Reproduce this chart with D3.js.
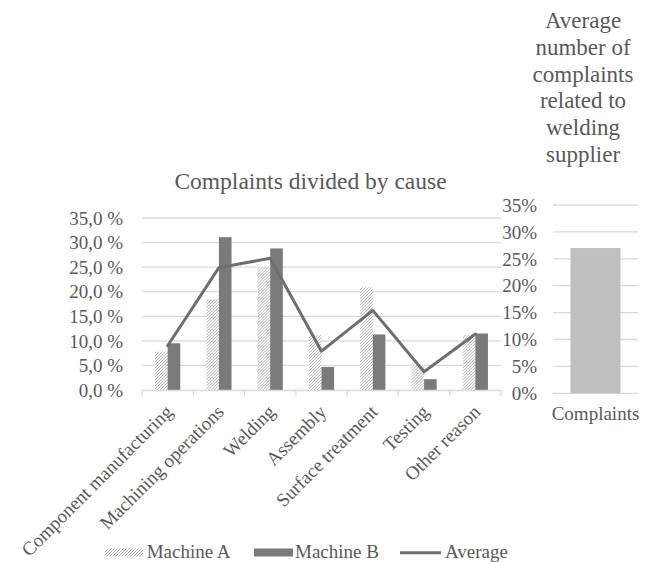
<!DOCTYPE html>
<html><head><meta charset="utf-8">
<script src="https://cdn.jsdelivr.net/npm/d3@7"></script>
<style>body{margin:0;background:#fff}svg{display:block}text{font-family:"Liberation Serif","Times New Roman",serif;fill:#595959}</style>
</head><body><svg id="c" width="655" height="562"></svg>
<script>
const categories = ["Component manufacturing","Machining operations","Welding","Assembly","Surface treatment","Testing","Other reason"];
const machineA = [7.8, 18.5, 24.9, 11.2, 20.9, 5.1, 11.2];
const machineB = [9.5, 31.1, 28.8, 4.7, 11.3, 2.2, 11.5];
const average  = [9.0, 24.9, 26.8, 7.9, 16.2, 3.7, 11.4];
const leftTicks = [0,5,10,15,20,25,30,35];
const rightCategories = ["Complaints"];
const rightValues = [27.0];
const rightTicks = [0,5,10,15,20,25,30,35];
const leftTitle = "Complaints divided by cause";
const rightTitle = ["Average","number of","complaints","related to","welding","supplier"];
const legendItems = ["Machine A","Machine B","Average"];

const svg = d3.select("#c");
const defs = svg.append("defs");
const pat = defs.append("pattern").attr("id","hatch").attr("patternUnits","userSpaceOnUse")
  .attr("width",3).attr("height",3);
pat.append("rect").attr("width",3).attr("height",3).attr("fill","#ffffff");
pat.append("path").attr("d","M-1,1 L1,-1 M0,3 L3,0 M2,4 L4,2").attr("stroke","#a8a8a8").attr("stroke-width",0.9);

const grid="#d9d9d9", barB="#7a7a7a", lineC="#6e6e6e";
const serif = '"Liberation Serif","Times New Roman",serif';

// Left chart
const x0 = d3.scaleBand().domain(categories).range([142,501]).padding(0);
const bw = x0.bandwidth();
const x1 = d3.scaleBand().domain(["A","B"]).range([bw/2-12.6, bw/2+12.6]).padding(0);
const y = d3.scaleLinear().domain([0,35]).range([390,218]);

const gl = svg.append("g");
gl.selectAll("line.g").data(leftTicks.filter(d=>d>0)).join("line")
  .attr("x1",142).attr("x2",501).attr("y1",d=>y(d)).attr("y2",d=>y(d))
  .attr("stroke",grid).attr("stroke-width",1.3);

const yAxis = d3.axisLeft(y).tickValues(leftTicks).tickSize(0).tickPadding(0)
  .tickFormat(d=>d3.format(".1f")(d).replace(".",",")+" %");
const ya = svg.append("g").attr("transform","translate(123,0)").call(yAxis);
ya.select(".domain").remove();
ya.attr("font-family",serif);
ya.selectAll("text").attr("font-size",19).attr("fill","#595959").attr("dy","0.33em")
  .style("font-family",serif);

// bars
const groups = svg.append("g").selectAll("g").data(categories).join("g")
  .attr("transform",d=>`translate(${x0(d)},0)`);
groups.append("rect").attr("x",x1("A")).attr("width",x1.bandwidth())
  .attr("y",(d,i)=>y(machineA[i])).attr("height",(d,i)=>y(0)-y(machineA[i]))
  .attr("fill","url(#hatch)");
groups.append("rect").attr("x",x1("B")).attr("width",x1.bandwidth())
  .attr("y",(d,i)=>y(machineB[i])).attr("height",(d,i)=>y(0)-y(machineB[i]))
  .attr("fill",barB);

// x axis
const xAxis = d3.axisBottom(x0).tickSize(0).tickFormat("");
const xa = svg.append("g").attr("transform","translate(0,390)").call(xAxis);
xa.select(".domain").attr("stroke",grid).attr("stroke-width",1.3);
xa.selectAll(".tick").remove();
const bounds = categories.map(c=>x0(c)).concat([x0(categories[categories.length-1])+bw]);
svg.append("g").selectAll("line").data(bounds).join("line")
  .attr("x1",d=>d).attr("x2",d=>d).attr("y1",390).attr("y2",396)
  .attr("stroke",grid).attr("stroke-width",1.3);

svg.append("g").selectAll("text").data(categories).join("text")
  .attr("transform",d=>`translate(${x0(d)+bw/2+6},413) rotate(-45)`)
  .attr("text-anchor","end").attr("font-size",19).style("font-family",serif).text(d=>d);

// average line
const line = d3.line().x((d,i)=>x0(categories[i])+bw/2).y(d=>y(d));
svg.append("path").datum(average).attr("d",line).attr("fill","none")
  .attr("stroke",lineC).attr("stroke-width",3).attr("stroke-linejoin","round").attr("stroke-linecap","round");

svg.append("text").attr("x",310.5).attr("y",189).attr("text-anchor","middle")
  .attr("font-size",23.5).style("font-family",serif).text(leftTitle);

// Right chart
const xr = d3.scaleBand().domain(rightCategories).range([553,638]).paddingInner(0).paddingOuter(0.35);
const yr = d3.scaleLinear().domain([0,35]).range([393.3,205]);
svg.append("g").selectAll("line").data(rightTicks).join("line")
  .attr("x1",553).attr("x2",638).attr("y1",d=>yr(d)).attr("y2",d=>yr(d))
  .attr("stroke",grid).attr("stroke-width",1.3);
const yrAxis = d3.axisLeft(yr).tickValues(rightTicks).tickSize(0).tickPadding(0).tickFormat(d=>d+"%");
const yra = svg.append("g").attr("transform","translate(537,0)").call(yrAxis);
yra.select(".domain").remove();
yra.attr("font-family",serif);
yra.selectAll("text").attr("font-size",19).attr("fill","#595959").attr("dy","0.33em")
  .style("font-family",serif);
svg.append("g").selectAll("rect").data(rightValues).join("rect")
  .attr("x",(d,i)=>xr(rightCategories[i])).attr("width",xr.bandwidth())
  .attr("y",d=>yr(d)).attr("height",d=>yr(0)-yr(d)).attr("fill","#bfbfbf");
svg.append("g").selectAll("text").data(rightCategories).join("text")
  .attr("x",d=>xr(d)+xr.bandwidth()/2).attr("y",420).attr("text-anchor","middle")
  .attr("font-size",19).style("font-family",serif).text(d=>d);
svg.append("g").selectAll("text").data(rightTitle).join("text")
  .attr("x",583).attr("y",(d,i)=>28+i*26.8).attr("text-anchor","middle")
  .attr("font-size",23).style("font-family",serif).text(d=>d);

// Legend
const lg = svg.append("g");
const lx = [105, 254, 400];
lg.append("rect").attr("x",lx[0]).attr("y",548.5).attr("width",38).attr("height",8).attr("fill","url(#hatch)");
lg.append("rect").attr("x",lx[1]).attr("y",548.5).attr("width",39).attr("height",8).attr("fill",barB);
lg.append("line").attr("x1",lx[2]).attr("x2",lx[2]+41).attr("y1",552.7).attr("y2",552.7)
  .attr("stroke",lineC).attr("stroke-width",3);
lg.selectAll("text").data(legendItems).join("text")
  .attr("x",(d,i)=>[146.7,295,445][i]).attr("y",557.5).attr("font-size",19).style("font-family",serif).text(d=>d);
</script></body></html>
